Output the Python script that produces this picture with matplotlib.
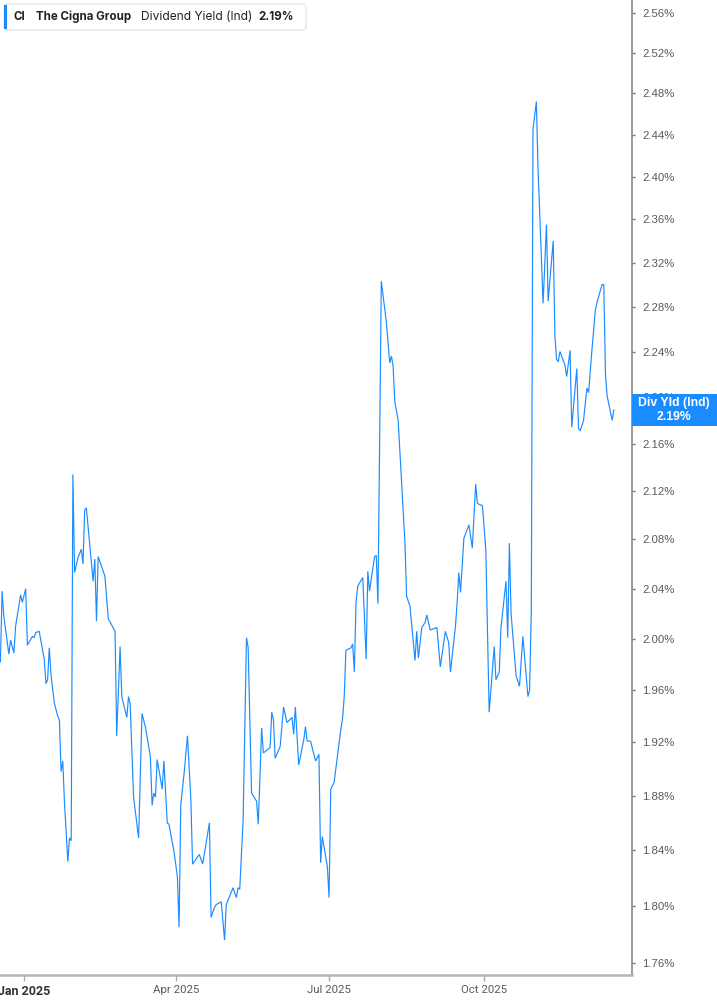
import matplotlib
matplotlib.use("Agg")
import matplotlib.pyplot as plt
import matplotlib.dates as mdates
from matplotlib.patches import Rectangle, FancyBboxPatch
from matplotlib.ticker import FixedLocator, NullLocator, FuncFormatter
import pandas as pd

# CI dividend yield (Ind)
dates = [
    "2024-12-18", "2024-12-19", "2024-12-20", "2024-12-23", "2024-12-24", "2024-12-26", "2024-12-27",
    "2024-12-30", "2024-12-31", "2025-01-02", "2025-01-03", "2025-01-06", "2025-01-07", "2025-01-08",
    "2025-01-10", "2025-01-13", "2025-01-14", "2025-01-15", "2025-01-16", "2025-01-17", "2025-01-19",
    "2025-01-21", "2025-01-22", "2025-01-23", "2025-01-24", "2025-01-25", "2025-01-27", "2025-01-28",
    "2025-01-29", "2025-01-30", "2025-01-31", "2025-02-02", "2025-02-04", "2025-02-05", "2025-02-06",
    "2025-02-07", "2025-02-09", "2025-02-11", "2025-02-12", "2025-02-13", "2025-02-14", "2025-02-18",
    "2025-02-20", "2025-02-22", "2025-02-24", "2025-02-25", "2025-02-27", "2025-02-28", "2025-03-03",
    "2025-03-04", "2025-03-05", "2025-03-07", "2025-03-10", "2025-03-12", "2025-03-14", "2025-03-17",
    "2025-03-18", "2025-03-19", "2025-03-20", "2025-03-21", "2025-03-24", "2025-03-25", "2025-03-27",
    "2025-03-28", "2025-03-31", "2025-04-02", "2025-04-03", "2025-04-04", "2025-04-06", "2025-04-08",
    "2025-04-10", "2025-04-11", "2025-04-15", "2025-04-17", "2025-04-21", "2025-04-22", "2025-04-24",
    "2025-04-25", "2025-04-28", "2025-04-30", "2025-05-01", "2025-05-05", "2025-05-07", "2025-05-08",
    "2025-05-09", "2025-05-11", "2025-05-13", "2025-05-14", "2025-05-16", "2025-05-19", "2025-05-20",
    "2025-05-22", "2025-05-23", "2025-05-27", "2025-05-28", "2025-05-29", "2025-05-30", "2025-06-02",
    "2025-06-04", "2025-06-06", "2025-06-09", "2025-06-10", "2025-06-11", "2025-06-13", "2025-06-16",
    "2025-06-17", "2025-06-18", "2025-06-20", "2025-06-23", "2025-06-25", "2025-06-26", "2025-06-27",
    "2025-06-30", "2025-07-01", "2025-07-02", "2025-07-04", "2025-07-08", "2025-07-09", "2025-07-10",
    "2025-07-11", "2025-07-14", "2025-07-15", "2025-07-16", "2025-07-17", "2025-07-18", "2025-07-21",
    "2025-07-23", "2025-07-24", "2025-07-25", "2025-07-28", "2025-07-29", "2025-07-30", "2025-08-01",
    "2025-08-04", "2025-08-06", "2025-08-07", "2025-08-08", "2025-08-09", "2025-08-11", "2025-08-15",
    "2025-08-16", "2025-08-18", "2025-08-21", "2025-08-22", "2025-08-23", "2025-08-25", "2025-08-27",
    "2025-08-28", "2025-08-30", "2025-09-03", "2025-09-05", "2025-09-08", "2025-09-10", "2025-09-11",
    "2025-09-14", "2025-09-15", "2025-09-16", "2025-09-17", "2025-09-19", "2025-09-22", "2025-09-24",
    "2025-09-26", "2025-09-27", "2025-09-28", "2025-09-30", "2025-10-02", "2025-10-04", "2025-10-07",
    "2025-10-08", "2025-10-10", "2025-10-11", "2025-10-14", "2025-10-15", "2025-10-16", "2025-10-17",
    "2025-10-20", "2025-10-22", "2025-10-24", "2025-10-27", "2025-10-28", "2025-10-29", "2025-10-30",
    "2025-11-01", "2025-11-02", "2025-11-05", "2025-11-07", "2025-11-08", "2025-11-11", "2025-11-12",
    "2025-11-13", "2025-11-14", "2025-11-15", "2025-11-18", "2025-11-19", "2025-11-21", "2025-11-22",
    "2025-11-25", "2025-11-26", "2025-11-27", "2025-11-29", "2025-12-01", "2025-12-02", "2025-12-04",
    "2025-12-06", "2025-12-07", "2025-12-10", "2025-12-11", "2025-12-12", "2025-12-13", "2025-12-16",
    "2025-12-17",
]
yields = [
    1.982, 2.038, 2.018, 1.988, 1.999, 1.989, 2.010,
    2.035, 2.029, 2.040, 1.995, 2.002, 2.001, 2.005,
    2.006, 1.984, 1.965, 1.968, 1.993, 1.972, 1.950,
    1.940, 1.937, 1.898, 1.906, 1.875, 1.832, 1.849,
    1.847, 2.134, 2.053, 2.065, 2.072, 2.060, 2.104,
    2.106, 2.076, 2.046, 2.064, 2.014, 2.066, 2.050,
    2.016, 2.011, 2.006, 1.925, 1.994, 1.955, 1.939,
    1.955, 1.949, 1.879, 1.849, 1.942, 1.932, 1.909,
    1.873, 1.882, 1.879, 1.907, 1.885, 1.906, 1.860,
    1.859, 1.839, 1.821, 1.785, 1.873, 1.897, 1.925,
    1.877, 1.830, 1.837, 1.830, 1.860, 1.792, 1.799,
    1.801, 1.803, 1.776, 1.801, 1.813, 1.806, 1.813,
    1.812, 1.862, 2.001, 1.993, 1.882, 1.876, 1.859,
    1.931, 1.912, 1.916, 1.943, 1.937, 1.908, 1.917,
    1.947, 1.935, 1.939, 1.926, 1.947, 1.903, 1.922,
    1.932, 1.921, 1.921, 1.906, 1.911, 1.831, 1.850,
    1.828, 1.806, 1.885, 1.890, 1.930, 1.938, 1.955,
    1.991, 1.993, 1.996, 1.974, 2.029, 2.042, 2.049,
    1.984, 2.054, 2.038, 2.066, 2.067, 2.028, 2.303,
    2.266, 2.230, 2.236, 2.227, 2.196, 2.180, 2.078,
    2.034, 2.026, 1.983, 2.006, 1.985, 2.009, 2.013,
    2.019, 2.007, 2.009, 1.978, 2.006, 1.997, 1.974,
    2.010, 2.029, 2.053, 2.037, 2.081, 2.092, 2.073,
    2.126, 2.110, 2.109, 2.108, 2.072, 1.943, 1.994,
    1.968, 1.974, 2.009, 2.046, 2.001, 2.077, 2.020,
    1.971, 1.963, 2.002, 1.955, 1.960, 2.023, 2.445,
    2.472, 2.407, 2.283, 2.355, 2.285, 2.340, 2.254,
    2.233, 2.231, 2.240, 2.228, 2.218, 2.241, 2.174,
    2.225, 2.173, 2.171, 2.180, 2.208, 2.204, 2.242,
    2.277, 2.284, 2.300, 2.300, 2.220, 2.201, 2.180,
    2.189,
]

ytick_vals = [1.76, 1.80, 1.84, 1.88, 1.92, 1.96, 2.00, 2.04, 2.08, 2.12, 2.16,
              2.20, 2.24, 2.28, 2.32, 2.36, 2.40, 2.44, 2.48, 2.52, 2.56]
xtick_dates = ["2025-01-01", "2025-04-01", "2025-07-01", "2025-10-01"]
xtick_labels = ["Jan 2025", "Apr 2025", "Jul 2025", "Oct 2025"]

ticker = "CI"
company = "The Cigna Group"
metric = "Dividend Yield (Ind)"
tag = "Div Yld (Ind)"

blue = "#1a8cff"
W, H = 717, 1005

fig = plt.figure(figsize=(W / 100, H / 100), dpi=100)
ax = fig.add_axes([0, 30 / H, 632 / W, 975 / H])

x = pd.to_datetime(dates)
ax.plot(x, yields, color=blue, lw=0.85, solid_joinstyle="miter")

ax.set_yscale("log")
ax.set_ylim(1.7517, 2.5731)
ax.set_xlim(pd.Timestamp("2024-12-17 18:00"), pd.Timestamp("2025-12-27 18:00"))

ax.yaxis.tick_right()
ax.yaxis.set_major_locator(FixedLocator(ytick_vals))
ax.yaxis.set_minor_locator(NullLocator())
ax.yaxis.set_major_formatter(FuncFormatter(lambda v, p: f"{v:.2f}%"))
ax.tick_params(axis="y", length=2.5, width=1, color="#777777", pad=5,
               labelsize=8.2, labelcolor="#5a5a5a")
for lab in ax.get_yticklabels():
    lab.set_fontfamily("Liberation Sans")

xt = pd.to_datetime(xtick_dates)
ax.set_xticks(xt)
ax.set_xticklabels(xtick_labels)
ax.xaxis.set_minor_locator(NullLocator())
ax.tick_params(axis="x", length=4, width=1, color="#aaaaaa", pad=3,
               labelsize=8.2, labelcolor="#5a5a5a")
for i, lab in enumerate(ax.get_xticklabels()):
    lab.set_fontfamily("Roboto")
    if i == 0:
        lab.set_fontweight("bold")
        lab.set_color("#333333")
        lab.set_fontsize(9)

for s in ["left", "top"]:
    ax.spines[s].set_visible(False)
ax.spines["right"].set_color("#8a8a8a")
ax.spines["right"].set_linewidth(1.2)
ax.spines["bottom"].set_color("#b5b5b5")
ax.spines["bottom"].set_linewidth(1.8)

# legend box top-left
fig.patches.append(FancyBboxPatch((4 / W, 1 - 30 / H), 302 / W, 26 / H,
                                  boxstyle="round,pad=0,rounding_size=0.004",
                                  transform=fig.transFigure, facecolor="white",
                                  edgecolor="#e6e6e6", lw=1.0, zorder=5))
fig.patches.append(Rectangle((4 / W, 1 - 29 / H), 3 / W, 24 / H,
                             transform=fig.transFigure, facecolor=blue,
                             edgecolor="none", zorder=6))
ty = 1 - 17 / H
fig.text(14 / W, ty, ticker, fontsize=8.3, fontweight="bold", color="#222222",
         family="Inter", va="center", zorder=7)
fig.text(36 / W, ty, company, fontsize=8.3, fontweight="bold", color="#222222",
         family="Inter", va="center", zorder=7)
fig.text(141 / W, ty, metric, fontsize=8.6, color="#222222",
         family="Inter", va="center", zorder=7)
fig.text(258 / W, ty, f"{yields[-1]:.2f}%", fontsize=8.3, fontweight="bold",
         color="#222222", family="Inter", va="center", zorder=7)

# last value tag on the right axis
fig.canvas.draw()
ydisp = ax.transData.transform((mdates.date2num(x[-1]), yields[-1]))[1]
yc = ydisp / H
fig.patches.append(Rectangle((632 / W, yc - 16 / H), 85 / W, 32 / H,
                             transform=fig.transFigure, facecolor=blue,
                             edgecolor="none", zorder=8))
fig.text(674 / W, yc + 7 / H, tag, fontsize=8.8, fontweight="bold", color="white",
         family="Liberation Sans", ha="center", va="center", zorder=9)
fig.text(674 / W, yc - 7 / H, f"{yields[-1]:.2f}%", fontsize=8.8, fontweight="bold",
         color="white", family="Liberation Sans", ha="center", va="center", zorder=9)

fig.savefig("out.png", dpi=100)
